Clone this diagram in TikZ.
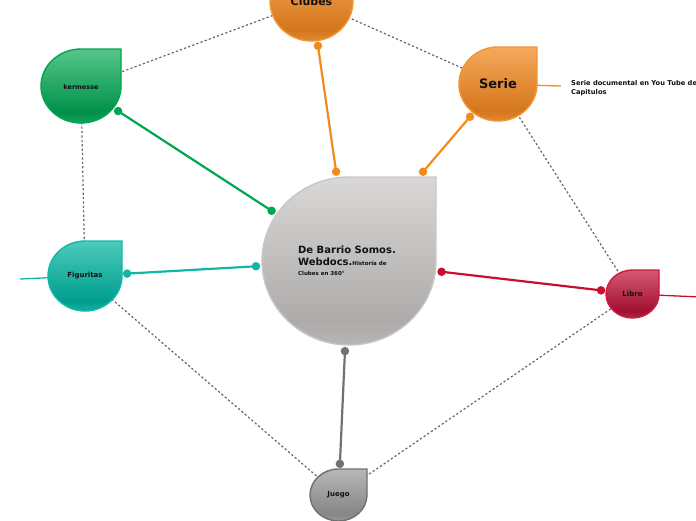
\documentclass[tikz,border=0pt]{standalone}
\usepackage{fontspec}
\setmainfont{DejaVu Sans}
\usetikzlibrary{shapes.geometric}
% orange
\definecolor{orL}{HTML}{F6A95C}\definecolor{orD}{HTML}{D5761C}\definecolor{orB}{HTML}{DE8A36}\definecolor{orE}{HTML}{F39532}\definecolor{orLine}{HTML}{F08C1E}
% green
\definecolor{gL}{HTML}{55C68A}\definecolor{gD}{HTML}{00904A}\definecolor{gB}{HTML}{16A45C}\definecolor{gE}{HTML}{00A650}\definecolor{gLine}{HTML}{00A651}
% teal
\definecolor{tL}{HTML}{4CCABB}\definecolor{tD}{HTML}{009E8E}\definecolor{tB}{HTML}{18B0A0}\definecolor{tE}{HTML}{12B8A8}\definecolor{tLine}{HTML}{12B5A8}
% crimson
\definecolor{cL}{HTML}{D65873}\definecolor{cD}{HTML}{A10F30}\definecolor{cB}{HTML}{B42944}\definecolor{cE}{HTML}{CF1840}\definecolor{cLine}{HTML}{C8102E}
% gray
\definecolor{jL}{HTML}{B8B6B6}\definecolor{jD}{HTML}{878585}\definecolor{jB}{HTML}{989696}\definecolor{jE}{HTML}{707070}\definecolor{jLine}{HTML}{757171}
% central
\definecolor{mL}{HTML}{DAD7D7}\definecolor{mD}{HTML}{ADABAA}\definecolor{mB}{HTML}{B8B6B5}\definecolor{mE}{HTML}{CAC6C6}
\definecolor{dotc}{HTML}{666666}
\definecolor{txt}{HTML}{111111}
\newcommand\mkshade[4]{\pgfdeclareverticalshading{#1}{100bp}{color(0bp)=(#4); color(25bp)=(#4); color(32bp)=(#3); color(75bp)=(#2); color(100bp)=(#2)}}
\mkshade{shOr}{orL}{orD}{orB}
\mkshade{shG}{gL}{gD}{gB}
\mkshade{shT}{tL}{tD}{tB}
\mkshade{shC}{cL}{cD}{cB}
\mkshade{shJ}{jL}{jD}{jB}
\mkshade{shM}{mL}{mD}{mB}
\pgfdeclarelayer{back}
\pgfsetlayers{back,main}
\newcommand\tdrop[6]{%
  \shadedraw[shading=#5, draw=#6, line width=1.4pt] (#1+#3,-#2+#4) -- (#1,-#2+#4)
    arc[start angle=90, end angle=360, x radius=#3pt, y radius=#4pt] -- cycle;}
\begin{document}
\begin{tikzpicture}[x=1pt,y=1pt,
  hub/.style={ellipse, inner sep=0pt, text=txt, font=\bfseries\fontsize{7}{8}\selectfont},
  dot/.style={circle, fill=#1, draw=none, inner sep=0pt, minimum size=8.5pt},
  conn/.style={line width=2.2pt, draw=#1},
  thinline/.style={line width=1.3pt, draw=#1},
  dots/.style={draw=dotc, line width=1.2pt, dash pattern=on 2.2pt off 2.2pt}]
\useasboundingbox (0,0) rectangle (696,-520);
\clip (0,0) rectangle (696,-520);
% shapes
\tdrop{311.5}{1}{41.5}{40}{shOr}{orE}
\tdrop{81}{86}{40}{37}{shG}{gE}
\tdrop{498}{84}{39}{37}{shOr}{orE}
\tdrop{85}{276}{37}{35}{shT}{tE}
\tdrop{632.5}{294}{26.5}{24}{shC}{cE}
\tdrop{338.5}{495}{28.5}{26}{shJ}{jE}
\tdrop{349}{261}{87}{84}{shM}{mE}
% nodes
\node[hub, minimum width=93pt, minimum height=90pt, font=\bfseries\fontsize{11}{12}\selectfont] (clubes) at (311.5,-1) {Clubes};
\node[hub, minimum width=90pt, minimum height=84pt, font=\bfseries\fontsize{6.5}{8}\selectfont] (kermesse) at (81,-87) {kermesse};
\node[hub, minimum width=88pt, minimum height=84pt, font=\bfseries\fontsize{13}{14}\selectfont] (serie) at (498,-84) {Serie};
\node[hub, minimum width=84pt, minimum height=80pt] (figuritas) at (85,-276) {Figuritas};
\node[hub, minimum width=63pt, minimum height=58pt] (libro) at (632.5,-294) {Libro};
\node[hub, minimum width=67pt, minimum height=62pt] (juego) at (338.5,-495) {Juego};
\node[rectangle, inner sep=0pt, minimum width=184pt, minimum height=178pt, align=left, text=txt,
  font=\bfseries\fontsize{10}{12}\selectfont] (center) at (347,-261)
  {De Barrio Somos.\\Webdocs.{\fontsize{5.5}{6}\selectfont Historia de}\\[-2pt]{\fontsize{5.5}{6}\selectfont Clubes en 360°}};
\node[ellipse, inner sep=0pt, minimum width=186pt, minimum height=180pt] (centerE) at (349,-261) {};
\node[anchor=west, inner xsep=10pt, inner ysep=0pt, align=left, text=txt,
  font=\bfseries\fontsize{6.7}{8.8}\selectfont] (note) at (561,-88.5) {Serie documental en You Tube de\\Capitulos};
\coordinate (figL) at (20,-279);
\coordinate (libR) at (700,-297);
% background lines
\begin{pgfonlayer}{back}
\draw[dots] (kermesse.center) -- (clubes.center);
\draw[dots] (clubes.center) -- (serie.center);
\draw[dots] (kermesse.center) -- (figuritas.center);
\draw[dots] (serie.center) -- (libro.center);
\draw[dots] (figuritas.center) -- (juego.center);
\draw[dots] (libro.center) -- (juego.center);
\draw[thinline=orLine] (serie.center) -- (note);
\draw[thinline=tLine] (figuritas.center) -- (figL);
\draw[thinline=cLine] (libro.center) -- (libR);
\end{pgfonlayer}
% connectors
\draw[conn=orLine] (clubes) -- (centerE) node[pos=0,dot=orLine]{} node[pos=1,dot=orLine]{};
\draw[conn=orLine] (serie) -- (center) node[pos=0,dot=orLine]{} node[pos=1,dot=orLine]{};
\draw[conn=gLine] (kermesse) -- (centerE) node[pos=0,dot=gLine]{} node[pos=1,dot=gLine]{};
\draw[conn=tLine] (figuritas) -- (centerE) node[pos=0,dot=tLine]{} node[pos=1,dot=tLine]{};
\draw[conn=cLine] (libro) -- (centerE) node[pos=0,dot=cLine]{} node[pos=1,dot=cLine]{};
\draw[conn=jLine] (juego) -- (centerE) node[pos=0,dot=jLine]{} node[pos=1,dot=jLine]{};
\end{tikzpicture}
\end{document}
